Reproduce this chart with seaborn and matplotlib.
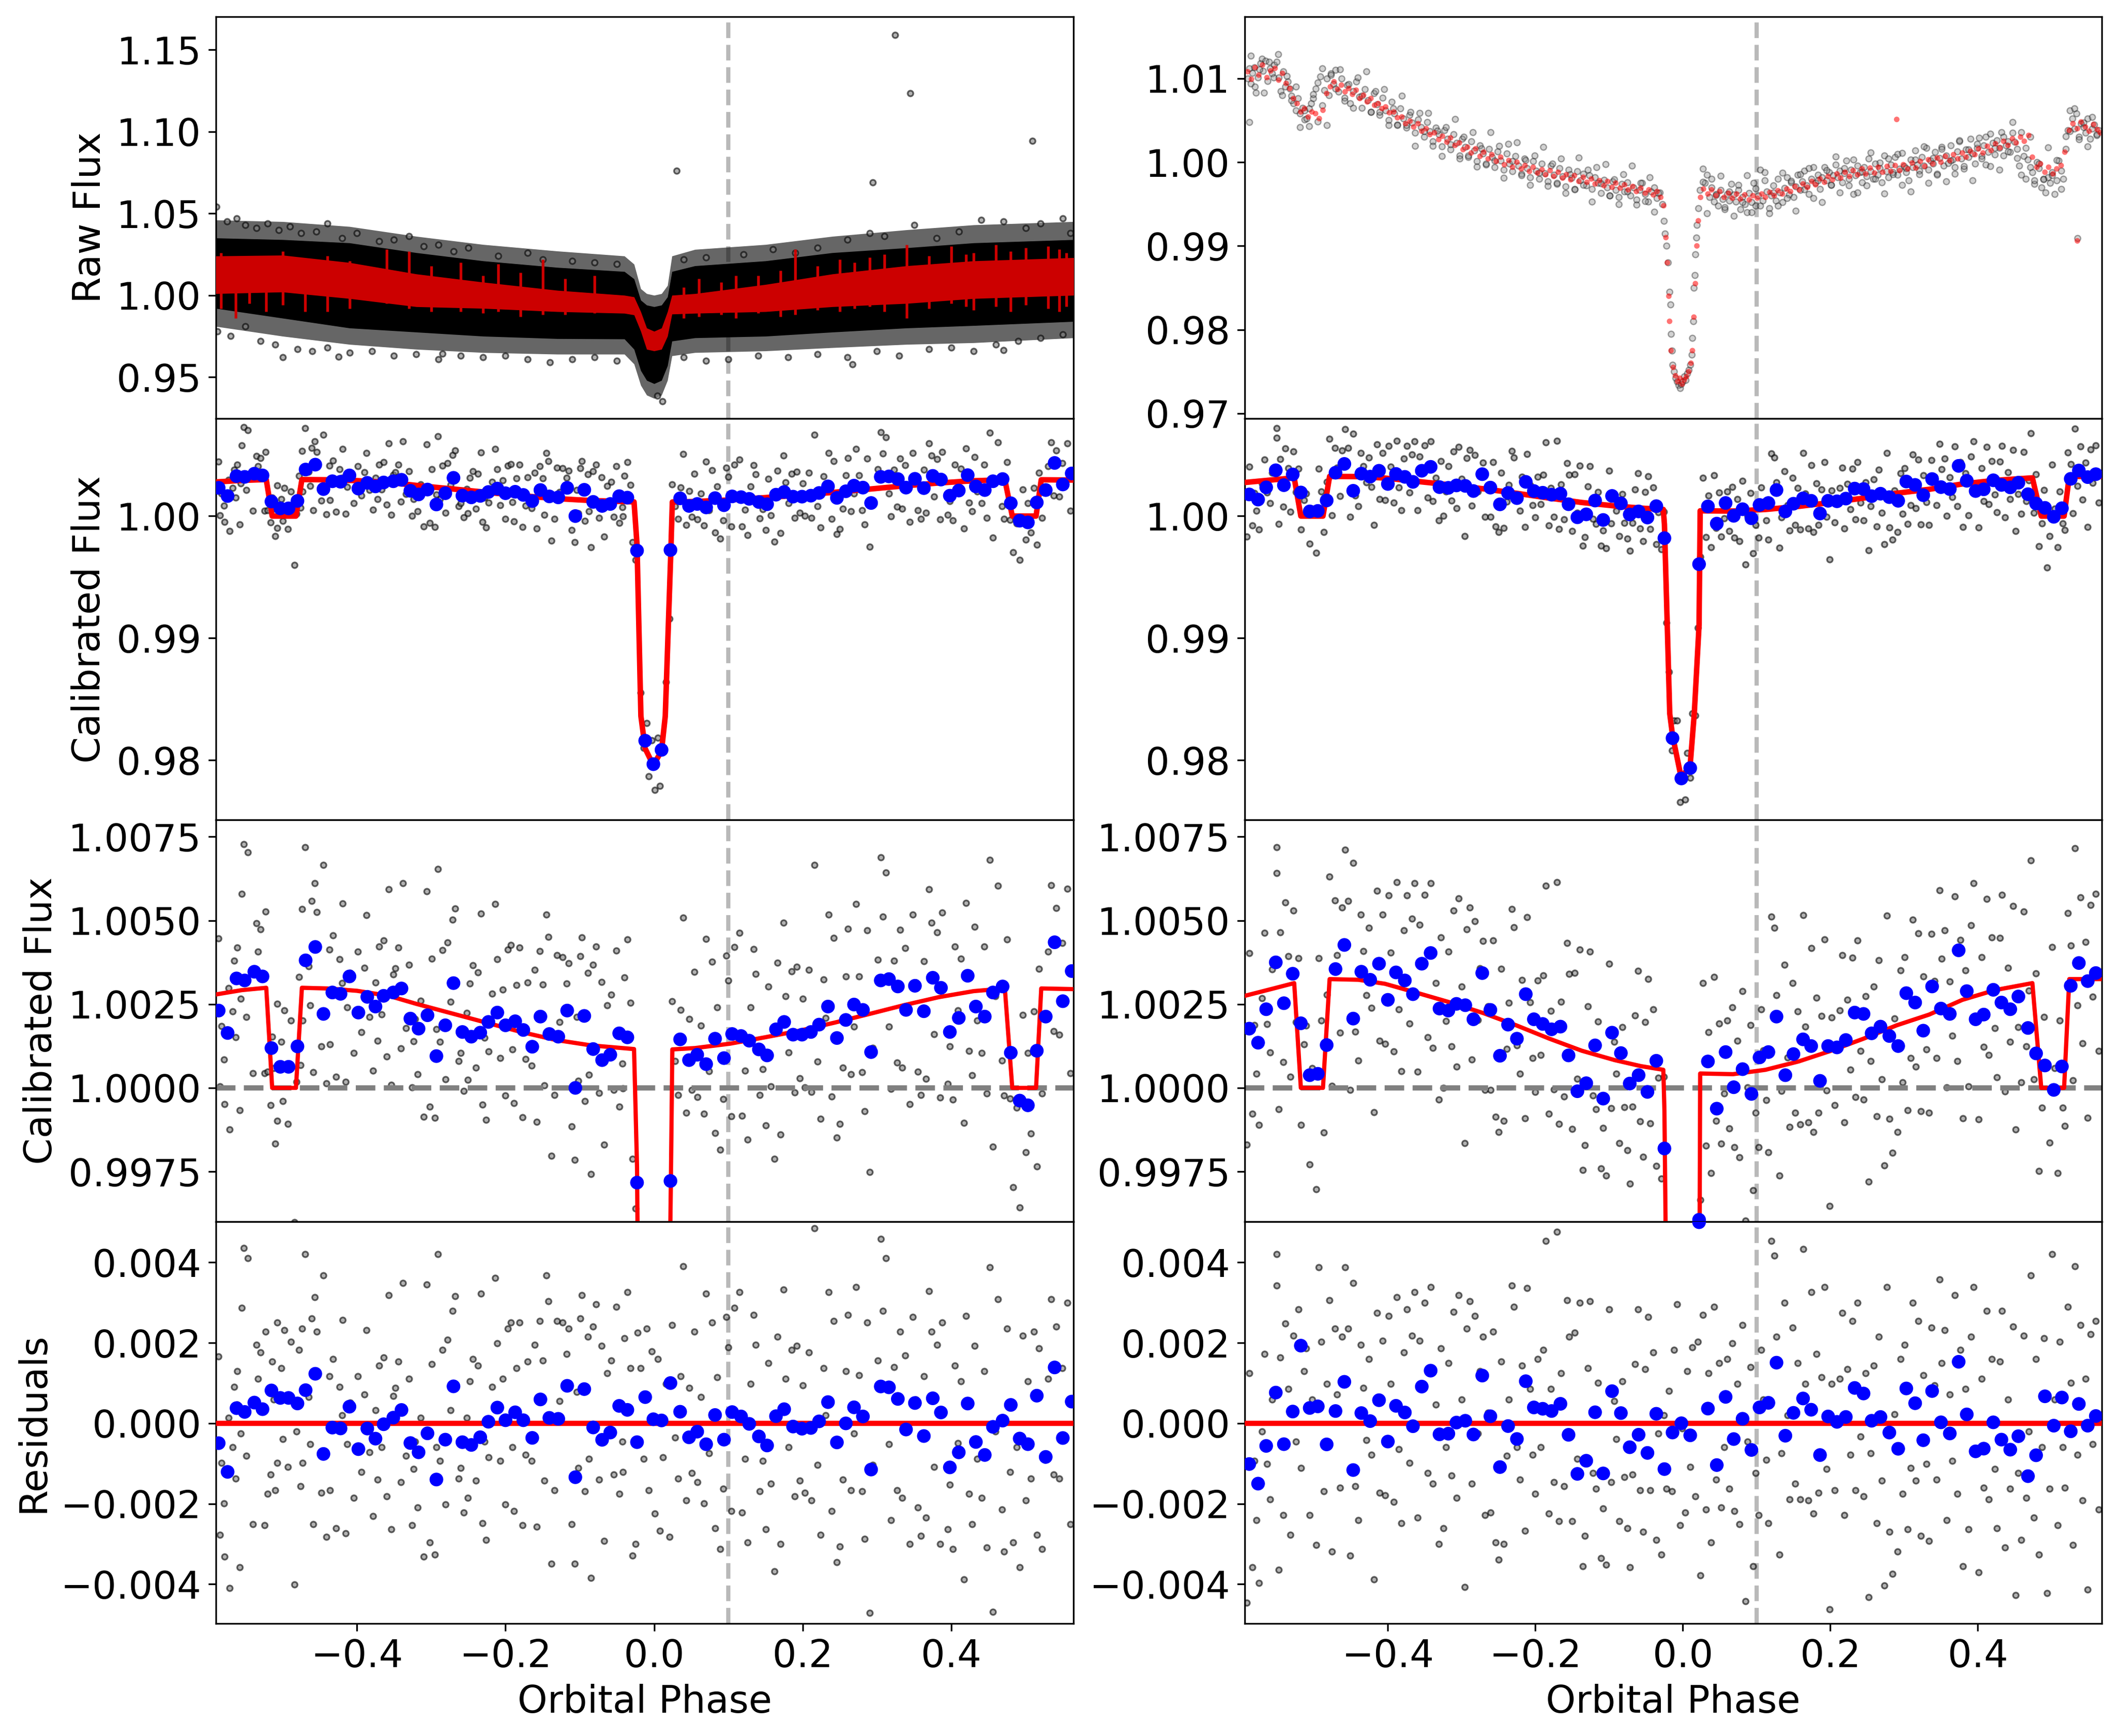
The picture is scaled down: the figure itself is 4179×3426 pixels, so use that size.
import numpy as np
import matplotlib
matplotlib.use("Agg")
import matplotlib.pyplot as plt
import seaborn as sns

plt.rcParams['font.family'] = ['DejaVu Sans']
plt.rcParams['font.size'] = 18
plt.rcParams['axes.formatter.useoffset'] = False

# ---------------- data (phase x1000, flux offsets from 1 in 1e-5) ----------------
# eclipse + transit + phase-curve model
left_model_x = [-0.59, -0.555, -0.522, -0.514, -0.482, -0.474, -0.44, -0.40, -0.357, -0.32, -0.273,
                -0.226, -0.179, -0.132, -0.085, -0.027, -0.023, -0.0178, -0.012, -0.001, 0.010,
                0.015, 0.0225, 0.0245, 0.055, 0.102, 0.149, 0.196, 0.243, 0.29, 0.336, 0.383,
                0.43, 0.472, 0.482, 0.514, 0.521, 0.565]
left_model_y = [279, 292, 299, 0, 0, 299, 297, 290, 275, 251, 223, 195, 167, 143, 127, 116, -236,
                -1638, -1905, -2042, -1922, -1638, -288, 115, 119, 132, 151, 171, 195, 221, 247,
                271, 289, 297, 0, 0, 297, 295]
right_model_x = [-0.594, -0.555, -0.527, -0.518, -0.488, -0.479, -0.44, -0.404, -0.359, -0.315, -0.27,
                 -0.226, -0.181, -0.137, -0.0925, -0.057, -0.0265, -0.025, -0.0178, -0.014, -0.002,
                 0.010, 0.0155, 0.022, 0.0235, 0.068, 0.112, 0.157, 0.201, 0.245, 0.29, 0.334,
                 0.379, 0.423, 0.474, 0.486, 0.517, 0.524, 0.568]
right_model_y = [275, 297, 313, 0, 0, 325, 323, 311, 283, 255, 223, 187, 147, 111, 83, 65, 54, -67,
                 -1617, -1796, -2149, -2034, -1617, -894, 43, 41, 54, 79, 111, 147, 187, 219, 263,
                 292, 313, 0, 0, 325, 325]

# binned points (blue)
left_bin_phase = [-586, -574, -562, -551, -538, -527, -515, -503, -492, -480, -469, -456, -445, -433,
                  -422, -410, -398, -386, -375, -364, -351, -340, -328, -317, -305, -293, -281, -270,
                  -258, -246, -234, -223, -211, -200, -187, -176, -164, -153, -141, -129, -117, -106,
                  -94, -82, -70, -59, -47, -36, -23, -12, -1, 10, 22, 35, 47, 58, 70, 82, 94, 105,
                  117, 128, 141, 152, 164, 175, 187, 199, 211, 222, 234, 246, 258, 269, 281, 292,
                  305, 316, 328, 339, 351, 363, 375, 386, 398, 410, 422, 433, 445, 456, 469, 480,
                  492, 503, 515, 527, 539, 550, 562]
left_bin_flux = [231, 164, 327, 321, 347, 333, 119, 63, 63, 124, 381, 421, 221, 285, 281, 333, 225,
                 272, 243, 275, 285, 297, 207, 177, 217, 95, 187, 313, 167, 153, 165, 197, 225, 187,
                 199, 173, 123, 213, 161, 153, 231, 0, 215, 116, 83, 99, 163, 151, -283, -1840,
                 -2032, -1915, -278, 145, 83, 99, 71, 147, 89, 161, 155, 141, 115, 97, 175, 197,
                 159, 159, 167, 189, 243, 149, 203, 249, 233, 107, 321, 325, 303, 233, 305, 229,
                 329, 299, 167, 209, 335, 243, 213, 285, 303, 105, -38, -52, 111, 213, 435, 259, 349]
right_bin_phase = [-588, -576, -565, -552, -541, -529, -518, -506, -495, -483, -471, -459, -447,
                   -436, -424, -412, -400, -389, -377, -366, -354, -342, -330, -318, -307, -295,
                   -284, -272, -261, -248, -237, -225, -213, -202, -190, -178, -166, -155, -143,
                   -131, -119, -108, -96, -84, -72, -60, -48, -36, -25, -14, -2, 10, 22, 34, 46,
                   58, 69, 81, 93, 104, 116, 127, 139, 150, 163, 174, 186, 197, 209, 221, 233, 245,
                   256, 268, 280, 292, 303, 315, 326, 338, 350, 362, 374, 385, 397, 408, 421, 432,
                   444, 455, 468, 479, 491, 503, 514, 526, 537, 549, 560]
right_bin_flux = [177, 135, 235, 375, 253, 341, 193, 38, 42, 128, 355, 427, 207, 347, 323, 371, 263,
                  345, 321, 280, 371, 403, 237, 231, 251, 247, 205, 343, 233, 96, 189, 147, 280, 205,
                  191, 175, 183, 97, -10, 14, 127, -32, 165, 104, 13, 38, -12, 81, -181, -1819,
                  -2149, -2064, -394, 79, -62, 107, 2, 56, -18, 91, 107, 213, 38, 101, 145, 125, 21,
                  125, 121, 143, 225, 221, 163, 183, 155, 125, 283, 255, 171, 303, 237, 221, 411,
                  289, 205, 219, 293, 255, 235, 273, 179, 103, 67, -6, 64, 305, 373, 319, 343]

# unbinned points as (phase, residual)
left_points = [
    (-586, 166), (-584, -277), (-578, -332), (-582, -98), (-579, -199), (-573, 13), (-571, -410),
    (-565, 91), (-561, 130), (-558, -358), (-555, 287), (-552, 436), (-547, 410), (-556, -26),
    (-563, -137), (-549, -81), (-567, -59), (-561, 46), (-540, -251), (-535, 195), (-530, 176),
    (-524, -254), (-523, 228), (-520, -176), (-514, 153), (-510, -166), (-507, -98), (-507, 251),
    (-502, 137), (-500, -39), (-498, 231), (-512, 59), (-533, 111), (-516, -127), (-493, -108),
    (-489, 202), (-484, -401), (-481, -20), (-478, 182), (-474, 235), (-470, 420), (-465, 65),
    (-461, 261), (-459, -251), (-457, 313), (-454, 228), (-473, -98), (-463, -52), (-476, -156),
    (-448, -173), (-445, 368), (-441, -283), (-437, 117), (-432, 160), (-428, -261), (-423, 91),
    (-419, 257), (-415, -274), (-413, -52), (-409, 52), (-404, -186), (-436, -166), (-420, 20),
    (-399, 117), (-394, -121), (-390, 72), (-387, 231), (-383, -72), (-378, -231), (-375, 33),
    (-370, 143), (-367, -59), (-364, 163), (-360, -182), (-357, 319), (-372, -140), (-354, -264),
    (-351, 68), (-348, 88), (-344, 153), (-341, -147), (-338, 349), (-334, -81), (-330, 111),
    (-326, -254), (-322, -46), (-318, -209), (-314, 13), (-310, -332), (-324, -114), (-306, 345),
    (-302, -296), (-299, 147), (-295, -326), (-291, 420), (-288, -94), (-285, 182), (-281, -202),
    (-278, 208), (-274, 33), (-271, 280), (-268, 316), (-263, -137), (-293, -59), (-260, -111),
    (-256, -222), (-251, -186), (-248, 104), (-244, 160), (-240, -143), (-237, 143), (-233, 322),
    (-231, -248), (-226, -290), (-223, -85), (-218, 91), (-252, 13), (-228, -46), (-214, 361),
    (-211, 199), (-207, -94), (-204, 111), (-200, -202), (-197, 235), (-193, 251), (-189, -218),
    (-185, 137), (-181, 251), (-177, -254), (-173, -78), (-170, 153), (-191, -59), (-165, -94),
    (-161, 195), (-158, -257), (-154, 254), (-150, 156), (-145, 368), (-142, 303), (-138, -349),
    (-134, -166), (-131, 254), (-127, 55), (-123, 251), (-148, -143), (-118, 173), (-115, 235),
    (-111, -251), (-107, -349), (-104, 78), (-99, 261), (-97, 319), (-93, -169), (-89, 215),
    (-85, -384), (-82, 241), (-78, 296), (-102, -111), (-88, -88), (-74, -140), (-71, 192),
    (-67, -293), (-63, 124), (-58, 156), (-54, -127), (-51, 290), (-47, -176), (-43, -46),
    (-40, 212), (-36, 326), (-32, 137), (-29, -329), (-42, -121), (-25, -300), (-22, 225),
    (-18, 137), (-14, -88), (-10, 235), (-7, -166), (-3, 179), (1, -225), (5, 160), (8, -267),
    (12, -85), (16, 98), (21, -283), (24, 244), (28, -36), (32, -137), (36, 117), (39, 391),
    (43, -192), (47, 88), (51, -124), (54, 228), (58, -147), (63, 65), (67, -199), (70, 322),
    (74, -75), (78, 251), (82, -261), (85, 114), (89, -313), (93, -163), (97, 264), (100, 189),
    (104, -218), (108, 287), (93, -39), (115, 326), (118, -222), (122, -88), (126, -296),
    (130, 98), (134, 270), (137, 195), (142, -169), (146, -94), (150, -264), (154, 150),
    (157, -150), (162, -368), (166, 215), (170, -300), (174, 332), (177, 111), (181, -59),
    (185, 182), (189, -182), (192, 192), (196, -143), (200, 94), (203, -173), (208, 176),
    (212, -192), (216, 485), (220, -104), (224, -277), (228, 137), (231, 20), (235, 326),
    (239, -218), (242, 254), (246, -345), (250, -306), (254, -140), (258, 130), (261, 270),
    (265, -166), (269, -26), (272, 339), (276, 120), (280, -169), (283, -287), (287, 251),
    (290, -472), (294, -104), (301, 156), (305, 459), (308, 280), (312, 410), (316, -52),
    (319, -241), (323, 140), (327, -166), (331, 228), (334, -186), (338, 169), (344, -300),
    (348, 264), (352, 59), (355, -209), (359, -280), (363, 117), (366, -235), (370, 329),
    (373, 228), (377, -108), (381, 195), (385, -300), (388, 251), (395, -264), (398, -153),
    (402, -313), (405, 143), (409, -49), (413, 104), (417, -388), (420, 267), (424, -176),
    (428, -251), (431, 192), (435, -88), (441, -186), (444, 130), (448, -309), (452, 388),
    (456, -469), (459, -20), (463, 309), (468, -215), (471, -319), (475, 235), (479, -121),
    (483, -296), (488, -59), (492, -358), (496, 218), (500, -192), (503, 104), (507, -137),
    (511, 228), (515, -277), (518, 186), (522, -313), (526, -91), (530, 111), (534, 309),
    (538, -127), (541, 241), (545, -137), (549, 137), (553, -33), (556, 300), (560, -251)]

right_points = [
    (-591, -446), (-588, 124), (-584, -358), (-581, -94), (-578, -241), (-575, -397), (-571, -20),
    (-567, 173), (-564, -101), (-560, -189), (-557, 59), (-551, 420), (-551, 342), (-548, -365),
    (-546, 163), (-542, -228), (-539, 248), (-535, 85), (-532, -277), (-528, 218), (-525, -46),
    (-521, 283), (-518, -111), (-514, 130), (-511, 186), (-506, -228), (-503, 59), (-497, -303),
    (-494, 388), (-490, 202), (-487, -169), (-483, 98), (-479, 306), (-476, -319), (-472, 235),
    (-469, 72), (-465, -160), (-462, 215), (-458, 388), (-454, 235), (-451, -329), (-447, 349),
    (-444, -156), (-440, -241), (-437, 195), (-433, 88), (-429, -42), (-426, 160), (-422, -78),
    (-419, -388), (-415, 274), (-411, -173), (-407, 205), (-404, -179), (-399, 267), (-396, 98),
    (-392, -195), (-388, 313), (-385, -65), (-382, -248), (-378, 176), (-374, 283), (-371, -98),
    (-367, 218), (-364, 326), (-360, -235), (-357, 205), (-353, 98), (-350, 300), (-346, -124),
    (-342, 339), (-339, -150), (-335, 46), (-331, -300), (-328, 186), (-325, -261), (-321, -59),
    (-318, 150), (-314, -130), (-311, 277), (-307, -186), (-304, 319), (-300, 59), (-296, -407),
    (-293, 235), (-289, 303), (-286, -150), (-282, 267), (-278, -26), (-275, 130), (-271, 215),
    (-268, -228), (-264, 26), (-261, -222), (-257, 228), (-254, -296), (-250, -339), (-246, 153),
    (-243, -300), (-239, -81), (-236, 59), (-232, 342), (-229, 290), (-225, -59), (-221, -140),
    (-218, 143), (-214, -267), (-211, 336), (-207, 85), (-204, -78), (-200, -176), (-197, 160),
    (-193, -59), (-189, 182), (-186, 453), (-182, -225), (-179, 85), (-175, -147), (-171, 476),
    (-168, -244), (-165, 124), (-161, -156), (-157, 306), (-154, 215), (-150, -244), (-147, 225),
    (-143, -88), (-140, 300), (-136, -355), (-133, -280), (-129, 137), (-126, 303), (-122, -124),
    (-118, -163), (-115, 101), (-111, -336), (-108, -212), (-104, -352), (-100, 283), (-97, -147),
    (-93, 55), (-90, -39), (-86, -244), (-82, 104), (-79, -134), (-75, -261), (-72, -358),
    (-68, -127), (-65, 147), (-61, 283), (-58, -166), (-54, -270), (-51, 134), (-47, 264),
    (-44, -166), (-40, 176), (-36, -290), (-33, -26), (-29, -326), (-26, 20), (-22, -163),
    (-19, 81), (-15, -169), (-12, 182), (-8, 296), (-4, -254), (-1, -13), (3, -222), (6, 130),
    (10, -108), (13, 189), (17, -182), (20, 202), (24, -378), (27, 270), (31, -215), (35, 124),
    (38, -296), (42, 290), (45, -140), (49, 150), (52, -209), (56, -59), (60, 160), (63, -163),
    (67, 199), (70, -218), (74, 98), (77, -251), (81, 244), (85, -443), (88, -46), (92, 140),
    (95, -355), (99, -124), (103, -228), (106, 182), (109, 59), (113, -91), (116, -248), (120, 453),
    (124, 417), (127, 215), (131, -326), (134, -75), (138, 300), (142, 20), (145, -189), (149, 238),
    (152, -150), (156, 150), (159, -189), (163, 433), (166, 98), (170, -192), (174, 326),
    (177, -225), (181, 173), (184, -173), (188, 114), (192, 339), (195, -114), (199, -463),
    (202, 98), (206, -166), (213, 111), (216, 274), (219, -228), (223, 134), (227, -78), (230, 254),
    (234, -166), (237, 300), (241, -33), (245, -182), (248, 124), (252, -433), (255, -75),
    (259, 143), (263, -248), (266, 215), (270, -143), (273, -404), (277, 339), (280, -270),
    (284, -375), (287, 23), (291, -319), (295, 160), (298, -176), (301, 195), (305, -264),
    (309, -111), (312, 300), (316, -143), (319, 254), (323, -280), (326, 120), (330, -101),
    (334, -293), (337, 238), (341, 94), (344, -140), (348, 358), (351, 150), (355, 231),
    (358, -241), (362, 72), (365, -94), (369, 319), (372, -176), (376, 182), (380, -355), (383, 85),
    (387, -264), (391, 215), (394, 339), (398, -72), (401, -371), (405, 111), (408, -160),
    (412, 280), (415, -189), (419, 160), (423, -114), (426, -261), (430, 153), (433, 280),
    (437, -309), (441, 59), (444, -163), (448, 241), (451, -427), (455, -124), (459, -290),
    (462, 218), (466, -186), (469, -20), (472, 368), (476, -235), (479, 160), (483, -326),
    (487, -59), (490, 212), (494, -423), (497, -163), (501, 420), (504, 59), (508, -254), (511, 202),
    (515, -59), (518, -160), (522, 290), (526, 101), (529, -303), (532, 391), (535, -78), (539, 244),
    (542, -192), (546, 111), (549, -414), (553, 221), (556, -52), (560, 254), (564, -215)]

# raw flux, left target: dense band envelopes
raw_band_x = [-0.59, -0.5, -0.41, -0.32, -0.23, -0.13, -0.04, -0.027, -0.018, -0.01, 0.0, 0.01,
              0.018, 0.024, 0.055, 0.15, 0.24, 0.34, 0.43, 0.565]
raw_core_hi = [1.035, 1.034, 1.032, 1.026, 1.021, 1.017, 1.0145, 1.010, 0.997, 0.994, 0.993, 0.994,
               0.999, 1.0145, 1.018, 1.021, 1.026, 1.029, 1.032, 1.034]
raw_core_lo = [0.992, 0.986, 0.980, 0.9775, 0.975, 0.9735, 0.9733, 0.967, 0.954, 0.948, 0.946,
               0.948, 0.957, 0.972, 0.974, 0.975, 0.9775, 0.980, 0.9815, 0.984]
raw_halo_hi = [1.046, 1.045, 1.042, 1.036, 1.031, 1.027, 1.024, 1.019, 1.004, 1.001, 1.000, 1.001,
               1.006, 1.024, 1.028, 1.031, 1.036, 1.040, 1.043, 1.045]
raw_halo_lo = [0.981, 0.975, 0.970, 0.967, 0.965, 0.964, 0.964, 0.958, 0.945, 0.939, 0.937, 0.939,
               0.948, 0.963, 0.965, 0.966, 0.968, 0.970, 0.971, 0.974]
raw_red_hi = [1.024, 1.0245, 1.020, 1.013, 1.008, 1.003, 1.000, 0.999, 0.990, 0.980, 0.978, 0.980,
              0.990, 1.000, 1.001, 1.0066, 1.013, 1.018, 1.021, 1.023]
raw_red_lo = [1.001, 1.002, 0.998, 0.993, 0.992, 0.990, 0.989, 0.988, 0.978, 0.967, 0.966, 0.967,
              0.975, 0.9885, 0.989, 0.990, 0.993, 0.995, 0.998, 1.000]
raw_spike_x = [-0.583, -0.563, -0.545, -0.522, -0.5, -0.47, -0.44, -0.41, -0.36, -0.33, -0.3,
               -0.26, -0.23, -0.21, -0.18, -0.15, -0.12, -0.08, 0.04, 0.06, 0.09, 0.11, 0.14, 0.17,
               0.19, 0.22, 0.25, 0.27, 0.29, 0.31, 0.34, 0.37, 0.40, 0.42, 0.43, 0.46, 0.48, 0.50,
               0.53, 0.545, 0.555]
raw_spike_lo = [0.992, 0.986, 0.995, 0.990, 0.994, 0.990, 0.990, 0.992, 0.995, 0.992, 0.990, 0.990,
                0.989, 0.990, 0.987, 0.988, 0.988, 0.989, 0.986, 0.987, 0.988, 0.986, 0.989, 0.987,
                0.988, 0.991, 0.990, 0.992, 0.993, 0.990, 0.986, 0.992, 0.995, 0.993, 0.991, 0.993,
                0.990, 0.994, 0.992, 0.990, 0.993]
raw_spike_hi = [1.026, 1.005, 1.022, 1.012, 1.027, 1.022, 1.024, 1.021, 1.028, 1.027, 1.018, 1.020,
                1.012, 1.019, 1.014, 1.022, 1.010, 1.012, 1.005, 1.010, 1.008, 1.012, 1.012, 1.015,
                1.028, 1.018, 1.022, 1.020, 1.023, 1.025, 1.031, 1.024, 1.030, 1.025, 1.026, 1.031,
                1.027, 1.029, 1.030, 1.028, 1.026]
raw_loose = [
    (-0.589, 1.054), (-0.575, 1.045), (-0.562, 1.047), (-0.55, 1.043), (-0.535, 1.041), (-0.52, 1.044),
    (-0.505, 1.040), (-0.49, 1.042), (-0.475, 1.038), (-0.455, 1.039), (-0.44, 1.044), (-0.42, 1.035),
    (-0.4, 1.038), (-0.37, 1.033), (-0.35, 1.034), (-0.33, 1.036), (-0.31, 1.030), (-0.29, 1.031),
    (-0.27, 1.027), (-0.25, 1.029), (-0.21, 1.024), (-0.17, 1.026), (-0.15, 1.022), (-0.11, 1.021),
    (-0.08, 1.020), (-0.05, 1.019), (0.04, 1.022), (0.07, 1.023), (0.12, 1.025), (0.16, 1.028),
    (0.19, 1.026), (0.22, 1.029), (0.26, 1.034), (0.29, 1.038), (0.31, 1.036), (0.35, 1.043),
    (0.38, 1.035), (0.41, 1.039), (0.44, 1.046), (0.47, 1.045), (0.5, 1.041), (0.52, 1.044),
    (0.55, 1.047), (0.56, 1.038), (-0.588, 0.978), (-0.57, 0.975), (-0.55, 0.981), (-0.53, 0.972),
    (-0.51, 0.970), (-0.48, 0.967), (-0.46, 0.966), (-0.44, 0.968), (-0.41, 0.965), (-0.38, 0.966),
    (-0.35, 0.963), (-0.32, 0.964), (-0.29, 0.961), (-0.26, 0.963), (-0.23, 0.962), (-0.2, 0.963),
    (-0.17, 0.961), (-0.14, 0.959), (-0.11, 0.961), (-0.08, 0.962), (-0.05, 0.960), (0.04, 0.962),
    (0.07, 0.960), (0.1, 0.961), (0.14, 0.963), (0.18, 0.962), (0.22, 0.964), (0.26, 0.962),
    (0.3, 0.966), (0.33, 0.963), (0.37, 0.967), (0.4, 0.968), (0.43, 0.966), (0.46, 0.970),
    (0.49, 0.972), (0.52, 0.974), (0.55, 0.976), (0.03, 1.0762), (0.324, 1.159), (0.345, 1.1233),
    (0.509, 1.0943), (0.294, 1.0689), (-0.5, 0.9623), (-0.425, 0.9626), (0.011, 0.9352),
    (0.004, 0.9385), (0.267, 0.9577), (0.47, 0.9664), (-0.285, 0.9643)]

# raw flux, right target (phase x1000, flux offset 1e-5)
raw2_grey = [
    (-590, 1000), (-588, 1120), (-586, 940), (-584, 1065), (-581, 1130), (-579, 830), (-576, 1010),
    (-573, 1180), (-571, 1235), (-569, 1090), (-566, 1210), (-563, 970), (-560, 1120), (-557, 1060),
    (-554, 1160), (-551, 1200), (-548, 1010), (-545, 850), (-542, 1080), (-539, 900), (-536, 960),
    (-533, 880), (-531, 790), (-528, 700), (-525, 620), (-522, 760), (-519, 580), (-516, 650),
    (-513, 510), (-510, 520), (-507, 640), (-504, 700), (-501, 760), (-498, 880), (-495, 950),
    (-492, 1020), (-489, 1120), (-486, 860), (-483, 1000), (-480, 800), (-477, 1060), (-474, 930),
    (-471, 1100), (-467, 840), (-463, 1000), (-459, 770), (-455, 920), (-451, 700), (-447, 850),
    (-443, 960), (-439, 780), (-435, 650), (-431, 870), (-427, 740), (-423, 600), (-419, 820),
    (-415, 690), (-411, 560), (-407, 770), (-403, 620), (-399, 500), (-395, 720), (-391, 580),
    (-387, 450), (-383, 640), (-379, 520), (-375, 410), (-371, 560), (-367, 470), (-363, 350),
    (-359, 510), (-355, 420), (-351, 300), (-347, 480), (-343, 370), (-339, 250), (-335, 410),
    (-331, 330), (-327, 190), (-323, 380), (-319, 280), (-315, 150), (-311, 330), (-307, 230),
    (-303, 80), (-299, 280), (-295, 180), (-291, 60), (-287, 250), (-283, 140), (-279, 10),
    (-275, 200), (-271, 100), (-267, -30), (-263, 160), (-259, 60), (-255, -60), (-251, 130),
    (-247, 20), (-243, -90), (-239, 100), (-235, -20), (-231, -110), (-227, 70), (-223, -40),
    (-219, -140), (-215, 40), (-211, -70), (-207, -180), (-203, 10), (-199, -100), (-195, -200),
    (-191, -20), (-187, -130), (-183, -230), (-179, -40), (-175, -150), (-171, -260), (-167, -70),
    (-163, -170), (-159, -290), (-155, -90), (-151, -190), (-147, -320), (-143, -110), (-139, -220),
    (-135, -140), (-131, -280), (-127, -160), (-123, -320), (-119, -180), (-115, -250), (-111, -370),
    (-107, -210), (-103, -300), (-99, -400), (-95, -230), (-91, -330), (-87, -420), (-83, -260),
    (-79, -350), (-75, -240), (-71, -400), (-67, -300), (-63, -450), (-59, -330), (-55, -250),
    (-51, -380), (-47, -470), (-43, -350), (-39, -300), (-35, -430), (-31, -360), (-28, -500),
    (-26, -700), (-24, -850), (-22, -1000), (-20, -1200), (-18, -1550), (-17, -1700), (-16, -2050),
    (-15, -2250), (-14, -2420), (-12, -2500), (-10, -2580), (-8, -2620), (-6, -2660), (-4, -2700),
    (-2, -2650), (0, -2620), (2, -2560), (4, -2600), (6, -2520), (8, -2480), (10, -2420),
    (12, -2300), (13, -2100), (14, -1900), (15, -1500), (16, -1350), (17, -1100), (18, -900),
    (19, -750), (21, -550), (23, -330), (27, -80), (30, -250), (33, -150), (36, -420), (39, -300),
    (42, -470), (45, -380), (48, -520), (51, -330), (54, -440), (57, -560), (60, -380), (63, -460),
    (66, -260), (69, -390), (72, -470), (75, -330), (78, -560), (81, -420), (84, -500), (87, -600),
    (90, -370), (93, -480), (96, -250), (99, -520), (102, -400), (105, -90), (108, -460),
    (111, -120), (114, -350), (117, -550), (120, -400), (123, -280), (126, -460), (129, -200),
    (132, -360), (135, -480), (138, -310), (141, -180), (144, -390), (147, -240), (150, -420),
    (153, -290), (156, -150), (159, -330), (162, -230), (165, -100), (168, -280), (171, -380),
    (174, -200), (177, -60), (180, -250), (183, -150), (186, -320), (189, -180), (192, -60),
    (195, -220), (198, -120), (201, -270), (204, -160), (207, -30), (210, -180), (213, -100),
    (216, -240), (219, -130), (222, 20), (225, -200), (228, -90), (231, -380), (234, -160),
    (237, -40), (240, -120), (243, -240), (246, -60), (249, -170), (252, 40), (255, -110),
    (258, -200), (261, -20), (264, -150), (267, -70), (270, -240), (273, 80), (276, -110),
    (279, -180), (282, -30), (285, -120), (288, 60), (291, -150), (294, -80), (297, 110), (300, -50),
    (303, -120), (306, -220), (309, 30), (312, -60), (315, 140), (318, -30), (321, -100), (324, 60),
    (327, -40), (330, 170), (333, -90), (336, 20), (339, -20), (342, 120), (345, -140), (348, 50),
    (351, 180), (354, -40), (357, 80), (360, -10), (363, 200), (366, 30), (369, -60), (372, 130),
    (375, 250), (378, 40), (381, -80), (384, 150), (387, 60), (390, 280), (393, 100), (396, -20),
    (399, 170), (402, 290), (405, 70), (408, 200), (411, -30), (414, 120), (417, 340), (420, 230),
    (423, 90), (426, 260), (429, 170), (432, 360), (435, 80), (438, 200), (441, 250), (444, 120),
    (447, 350), (450, 240), (453, 160), (456, -40), (459, -150), (462, 70), (465, -200), (468, 30),
    (471, -60), (474, -120), (477, -260), (480, 0), (483, -70), (486, -300), (489, -200),
    (492, -360), (495, -180), (498, -250), (501, -120), (504, -380), (507, -220), (510, 20),
    (513, -100), (516, -200), (519, 160), (522, 380), (525, 620), (528, 520), (531, 400), (534, 580),
    (535, -910), (537, 300), (540, 460), (543, 420), (546, 350), (549, 520), (552, 280), (555, 400),
    (558, 450), (561, 320), (564, 380), (-588, 480)]
raw2_grey_wide = [
    (-586, 1270), (-580, 900), (-574, 1105), (-568, 827), (-561, 1200), (-555, 1010), (-549, 1290),
    (-543, 800), (-537, 1030), (-531, 740), (-525, 900), (-519, 420), (-513, 620), (-507, 430),
    (-501, 810), (-495, 485), (-489, 680), (-483, 440), (-477, 1040), (-471, 875), (-465, 1110),
    (-459, 735), (-453, 930), (-447, 645), (-441, 1010), (-435, 790), (-429, 1080), (-423, 600),
    (-417, 850), (-411, 600), (-405, 870), (-399, 440), (-393, 640), (-387, 440), (-381, 795),
    (-375, 440), (-369, 600), (-363, 195), (-357, 585), (-351, 370), (-345, 585), (-339, 195),
    (-333, 375), (-327, 70), (-321, 420), (-315, 210), (-309, 515), (-303, 45), (-297, 305),
    (-291, 80), (-285, 360), (-279, -55), (-273, 165), (-267, -20), (-261, 355), (-255, 20),
    (-249, 195), (-243, -190), (-237, 215), (-231, 10), (-225, 235), (-219, -155), (-213, 25),
    (-207, -270), (-201, 80), (-195, -125), (-189, 180), (-183, -285), (-177, -20), (-171, -245),
    (-165, 40), (-159, -370), (-153, -145), (-147, -325), (-141, 55), (-135, -275), (-129, -90),
    (-123, -470), (-117, -60), (-111, -255), (-105, -25), (-99, -400), (-93, -205), (-87, -500),
    (-81, -145), (-75, -350), (-69, -45), (-63, -510), (-57, -245), (-51, -465), (-45, -180),
    (-39, -595), (-33, -370), (27, -235), (33, -610), (39, -200), (45, -395), (51, -162),
    (57, -540), (63, -350), (69, -640), (75, -275), (81, -475), (87, -158), (93, -600), (99, -315),
    (105, -520), (111, -215), (117, -610), (123, -362), (129, -523), (135, -125), (141, -430),
    (147, -225), (153, -580), (159, -145), (165, -325), (171, -70), (177, -430), (183, -215),
    (189, -480), (195, -95), (201, -270), (207, 65), (213, -365), (219, -73), (225, -277), (231, 30),
    (237, -363), (243, -117), (249, -280), (255, 117), (261, -197), (267, -5), (273, -375),
    (279, 45), (285, -145), (291, 95), (297, -275), (303, -75), (309, -353), (315, 30), (321, -145),
    (327, 190), (333, -245), (339, 50), (345, -150), (351, 160), (357, -230), (363, 20), (369, -140),
    (375, 260), (381, -50), (387, 150), (393, -215), (399, 215), (405, 40), (411, 300), (417, -50),
    (423, 170), (429, -90), (435, 300), (441, 130), (447, 475), (453, 50), (459, 355), (465, 170),
    (471, 300), (477, -220), (483, -20), (489, -205), (495, 175), (501, -155), (507, 27),
    (513, -320), (519, 310), (525, 370), (531, 640), (537, 270), (543, 470), (549, 190), (555, 540),
    (561, 330)]
raw2_red = [
    (-590, 1080), (-585, 990), (-580, 1130), (-575, 1040), (-570, 1160), (-564, 1010), (-559, 1090),
    (-553, 1120), (-548, 980), (-543, 1060), (-538, 940), (-533, 880), (-528, 760), (-523, 700),
    (-518, 600), (-513, 640), (-508, 540), (-503, 600), (-498, 580), (-493, 520), (-488, 620),
    (-483, 820), (-478, 900), (-473, 960), (-468, 870), (-463, 920), (-458, 840), (-453, 880),
    (-448, 810), (-443, 860), (-438, 760), (-433, 800), (-428, 720), (-423, 760), (-418, 680),
    (-413, 700), (-408, 640), (-403, 660), (-398, 590), (-392, 600), (-387, 530), (-381, 540),
    (-376, 460), (-370, 490), (-365, 420), (-359, 460), (-354, 370), (-348, 400), (-343, 330),
    (-337, 350), (-331, 270), (-326, 310), (-320, 240), (-315, 290), (-309, 200), (-303, 230),
    (-298, 150), (-292, 180), (-287, 110), (-281, 160), (-275, 70), (-270, 120), (-264, 40),
    (-259, 90), (-253, 10), (-247, 60), (-242, -30), (-236, 20), (-231, -60), (-225, 0), (-219, -80),
    (-214, -40), (-208, -110), (-203, -60), (-197, -130), (-191, -90), (-186, -150), (-180, -100),
    (-175, -170), (-169, -120), (-163, -190), (-158, -150), (-152, -210), (-147, -160), (-141, -230),
    (-135, -180), (-130, -240), (-124, -200), (-119, -260), (-113, -220), (-107, -280), (-102, -230),
    (-96, -300), (-91, -250), (-85, -310), (-79, -270), (-74, -330), (-68, -290), (-63, -350),
    (-57, -310), (-51, -370), (-46, -330), (-40, -390), (-35, -350), (-30, -420), (-26, -520),
    (-23, -900), (-21, -1200), (-19, -1600), (-18, -1900), (-16, -2250), (-13, -2450), (-10, -2550),
    (-7, -2620), (-4, -2580), (-1, -2650), (2, -2600), (5, -2560), (8, -2500), (11, -2400),
    (13, -2250), (15, -1850), (17, -1450), (19, -1000), (21, -700), (24, -420), (28, -320),
    (34, -380), (39, -330), (45, -400), (50, -350), (56, -420), (62, -370), (67, -430), (73, -380),
    (78, -440), (84, -390), (90, -450), (95, -400), (101, -430), (107, -380), (112, -420),
    (118, -360), (124, -400), (129, -340), (135, -380), (141, -320), (146, -350), (152, -290),
    (158, -330), (163, -260), (169, -300), (175, -230), (180, -270), (186, -200), (192, -240),
    (197, -170), (203, -210), (209, -140), (214, -190), (220, -120), (226, -170), (231, -100),
    (237, -150), (243, -80), (248, -140), (254, -70), (260, -130), (265, -60), (271, -120),
    (277, -50), (282, -110), (288, -40), (290, 510), (294, -100), (299, -30), (305, -80), (311, -10),
    (316, -70), (322, 10), (328, -50), (333, 30), (339, -20), (345, 50), (350, 0), (356, 70),
    (362, 20), (367, 90), (373, 40), (379, 110), (384, 60), (390, 130), (396, 90), (401, 160),
    (407, 110), (413, 190), (418, 140), (424, 220), (430, 170), (435, 250), (441, 200), (447, 280),
    (452, 230), (458, 300), (463, 250), (469, 320), (474, 60), (480, -60), (485, -20), (491, -120),
    (496, -60), (502, -140), (507, -80), (513, -40), (518, 120), (524, 380), (529, 460), (535, 400),
    (535, -940), (540, 480), (546, 420), (551, 370), (557, 450), (562, 390), (566, 350)]

# ---------------- figure ----------------
fig = plt.figure(figsize=(13.933, 11.42), dpi=300)
col_x = [0.1020, 0.5876]
col_w = [0.4046, 0.4045]
row_h = 0.2314
xlims = [(-0.5895, 0.564), (-0.594, 0.568)]
axes = []
for c in range(2):
    col = []
    for r in range(4):
        ax = fig.add_axes([col_x[c], 0.0648 + (3 - r) * row_h, col_w[c], row_h])
        col.append(ax)
    axes.append(col)


def pts(pairs, xs=1e-3, ys=1e-5):
    a = np.array(pairs, dtype=float)
    return a[:, 0] * xs, a[:, 1] * ys


grey_kw = dict(color='grey', alpha=0.6, s=7, edgecolor='k', linewidth=0.8, legend=False)
blue_kw = dict(color='blue', s=42, edgecolor='none', legend=False, zorder=4)


def calibrated_column(col_axes, points, bin_p, bin_f, mx, my):
    mx = np.array(mx)
    my = 1 + np.array(my) * 1e-5
    gp, gr = pts(points)
    gcal = np.interp(gp, mx, my) + gr
    bp = np.array(bin_p) / 1000
    bf = 1 + np.array(bin_f) * 1e-5
    bres = bf - np.interp(bp, mx, my)

    for ax, lw in ((col_axes[1], 2.6), (col_axes[2], 2.0)):
        sns.scatterplot(x=gp, y=gcal, ax=ax, **grey_kw)
        sns.lineplot(x=mx, y=my, ax=ax, color='red', lw=lw, sort=False, estimator=None, zorder=3)
        sns.scatterplot(x=bp, y=bf, ax=ax, **blue_kw)
    col_axes[2].axhline(1.0, color='grey', ls='--', lw=2.5, zorder=2.5)

    ax = col_axes[3]
    sns.scatterplot(x=gp, y=gr, ax=ax, **grey_kw)
    ax.axhline(0.0, color='red', lw=2.5, zorder=3)
    sns.scatterplot(x=bp, y=bres, ax=ax, **blue_kw)


calibrated_column(axes[0], left_points, left_bin_phase, left_bin_flux, left_model_x, left_model_y)
calibrated_column(axes[1], right_points, right_bin_phase, right_bin_flux, right_model_x, right_model_y)

# top-left raw flux
ax = axes[0][0]
ax.fill_between(raw_band_x, raw_halo_lo, raw_halo_hi, color='k', alpha=0.6, lw=0)
ax.fill_between(raw_band_x, raw_core_lo, raw_core_hi, color='k', lw=0)
lx, ly = pts(raw_loose, 1, 1)
sns.scatterplot(x=lx, y=ly, ax=ax, **grey_kw)
ax.fill_between(raw_band_x, raw_red_lo, raw_red_hi, color='#cc0000', lw=0, zorder=3)
ax.vlines(raw_spike_x, raw_spike_lo, raw_spike_hi, color='#cc0000', lw=1.3, zorder=3)

# top-right raw flux
ax = axes[1][0]
for grp in (raw2_grey, raw2_grey_wide):
    gx, gy = pts(grp)
    sns.scatterplot(x=gx, y=1 + gy, ax=ax, color='grey', alpha=0.35, s=8, edgecolor='k',
                    linewidth=0.6, legend=False)
rx, ry = pts(raw2_red)
sns.scatterplot(x=rx, y=1 + ry, ax=ax, color='red', alpha=0.55, s=7, edgecolor='none', legend=False)

# axes cosmetics
ylims = [[(0.9248, 1.1702), (0.9751, 1.0080), (0.9960, 1.0080), (-0.00498, 0.00501)],
         [(0.96941, 1.01737), (0.9751, 1.0080), (0.9960, 1.0080), (-0.00498, 0.00501)]]
yticks = [[[0.95, 1.0, 1.05, 1.10, 1.15], [0.98, 0.99, 1.0],
           [0.9975, 1.0, 1.0025, 1.005, 1.0075], [-0.004, -0.002, 0.0, 0.002, 0.004]],
          [[0.97, 0.98, 0.99, 1.0, 1.01], [0.98, 0.99, 1.0],
           [0.9975, 1.0, 1.0025, 1.005, 1.0075], [-0.004, -0.002, 0.0, 0.002, 0.004]]]
ylabels = ['Raw Flux', 'Calibrated Flux', 'Calibrated Flux', 'Residuals']
for c in range(2):
    for r in range(4):
        ax = axes[c][r]
        ax.axvline(0.1, color='grey', alpha=0.55, ls='--', lw=2, zorder=0.5)
        ax.set_xlim(xlims[c])
        ax.set_ylim(ylims[c][r])
        ax.set_yticks(yticks[c][r])
        ax.set_xticks([-0.4, -0.2, 0.0, 0.2, 0.4])
        ax.tick_params(labelsize=18)
        ax.set_xlabel('')
        ax.set_ylabel(ylabels[r] if c == 0 else '', fontsize=18)
        if r < 3:
            ax.tick_params(labelbottom=False)
        else:
            ax.set_xlabel('Orbital Phase', fontsize=18)

fig.savefig('out.png', dpi=300)
